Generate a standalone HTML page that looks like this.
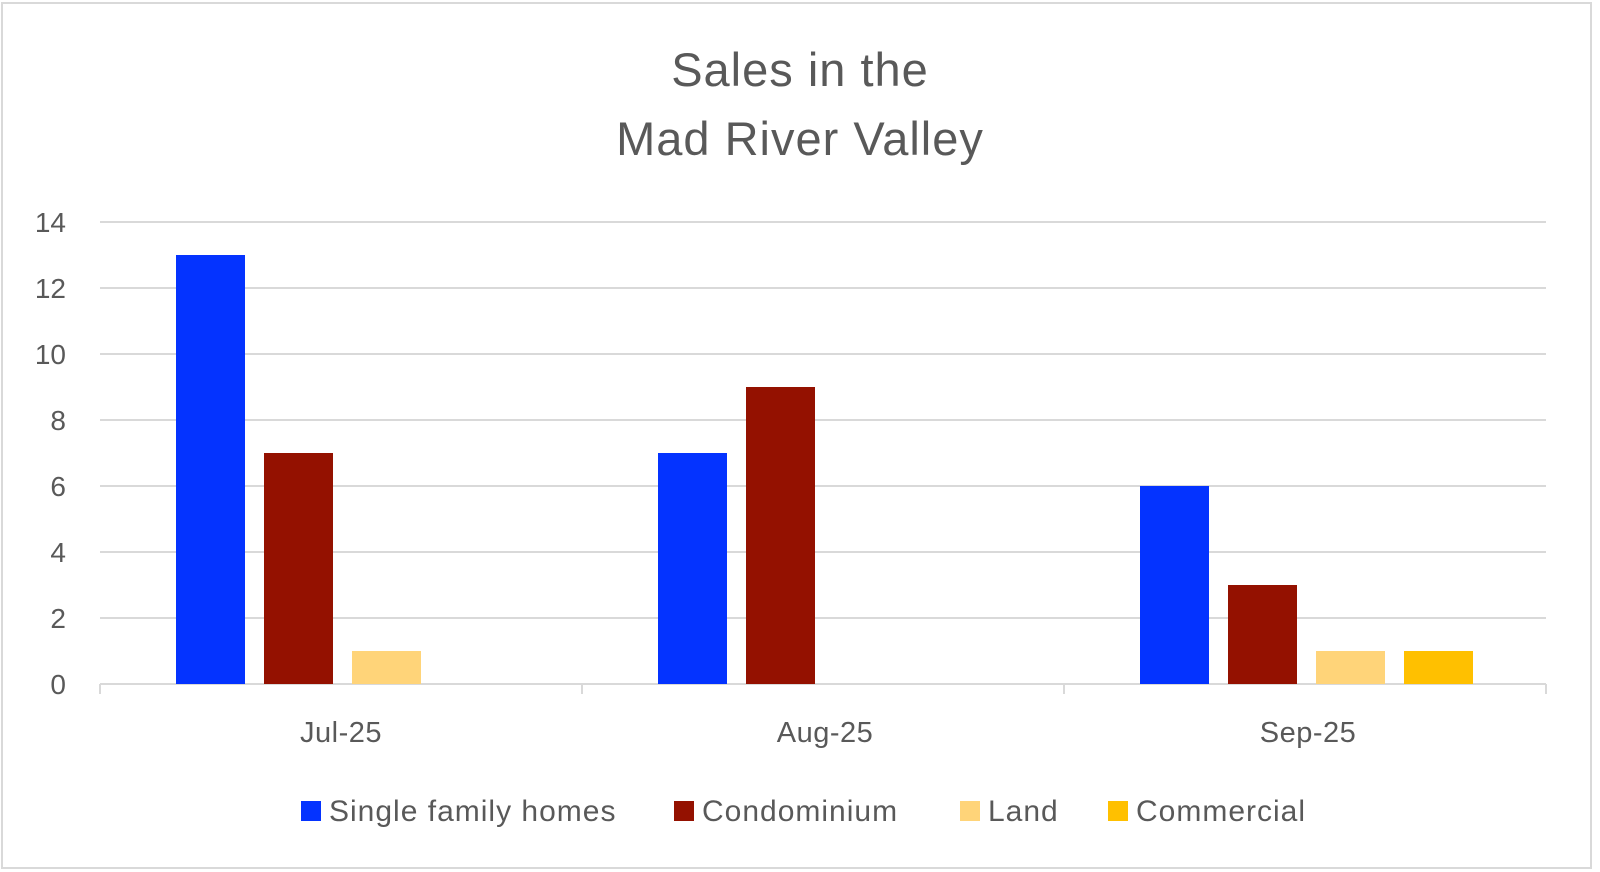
<!DOCTYPE html>
<html><head><style>body{margin:0;background:#fff}svg{display:block}text{font-family:"Liberation Sans",sans-serif;fill:#595959}</style></head><body>
<svg width="1600" height="872" xmlns="http://www.w3.org/2000/svg">
<rect x="2" y="3" width="1589" height="865" fill="#fff" stroke="#d9d9d9" stroke-width="2"/>
<text x="800" y="86" font-size="47" text-anchor="middle" letter-spacing="1">Sales in the</text>
<text x="800" y="155" font-size="47" text-anchor="middle" letter-spacing="1">Mad River Valley</text>
<g stroke="#d9d9d9" stroke-width="2">
<line x1="100" x2="1546" y1="222" y2="222"/><line x1="100" x2="1546" y1="288" y2="288"/>
<line x1="100" x2="1546" y1="354" y2="354"/><line x1="100" x2="1546" y1="420" y2="420"/>
<line x1="100" x2="1546" y1="486" y2="486"/><line x1="100" x2="1546" y1="552" y2="552"/>
<line x1="100" x2="1546" y1="618" y2="618"/><line x1="100" x2="1546" y1="684" y2="684"/>
<line x1="100" x2="100" y1="684" y2="694"/><line x1="582" x2="582" y1="684" y2="694"/>
<line x1="1064" x2="1064" y1="684" y2="694"/><line x1="1546" x2="1546" y1="684" y2="694"/>
</g>
<g font-size="28" text-anchor="end">
<text x="66" y="232">14</text><text x="66" y="298">12</text><text x="66" y="364">10</text>
<text x="66" y="430">8</text><text x="66" y="496">6</text><text x="66" y="562">4</text>
<text x="66" y="628">2</text><text x="66" y="694">0</text>
</g>
<rect x="176" y="255" width="69" height="429" fill="#0433ff"/>
<rect x="264" y="453" width="69" height="231" fill="#941100"/>
<rect x="352" y="651" width="69" height="33" fill="#ffd479"/>
<rect x="658" y="453" width="69" height="231" fill="#0433ff"/>
<rect x="746" y="387" width="69" height="297" fill="#941100"/>
<rect x="1140" y="486" width="69" height="198" fill="#0433ff"/>
<rect x="1228" y="585" width="69" height="99" fill="#941100"/>
<rect x="1316" y="651" width="69" height="33" fill="#ffd479"/>
<rect x="1404" y="651" width="69" height="33" fill="#ffc000"/>
<g font-size="29" text-anchor="middle" letter-spacing="0.5">
<text x="341" y="742">Jul-25</text><text x="825" y="742">Aug-25</text><text x="1308" y="742">Sep-25</text>
</g>
<g font-size="30" letter-spacing="1">
<rect x="301" y="801" width="20" height="20" fill="#0433ff"/><text x="329" y="821">Single family homes</text>
<rect x="674" y="801" width="20" height="20" fill="#941100"/><text x="702" y="821">Condominium</text>
<rect x="960" y="801" width="20" height="20" fill="#ffd479"/><text x="988" y="821">Land</text>
<rect x="1108" y="801" width="20" height="20" fill="#ffc000"/><text x="1136" y="821">Commercial</text>
</g>
</svg>
</body></html>
